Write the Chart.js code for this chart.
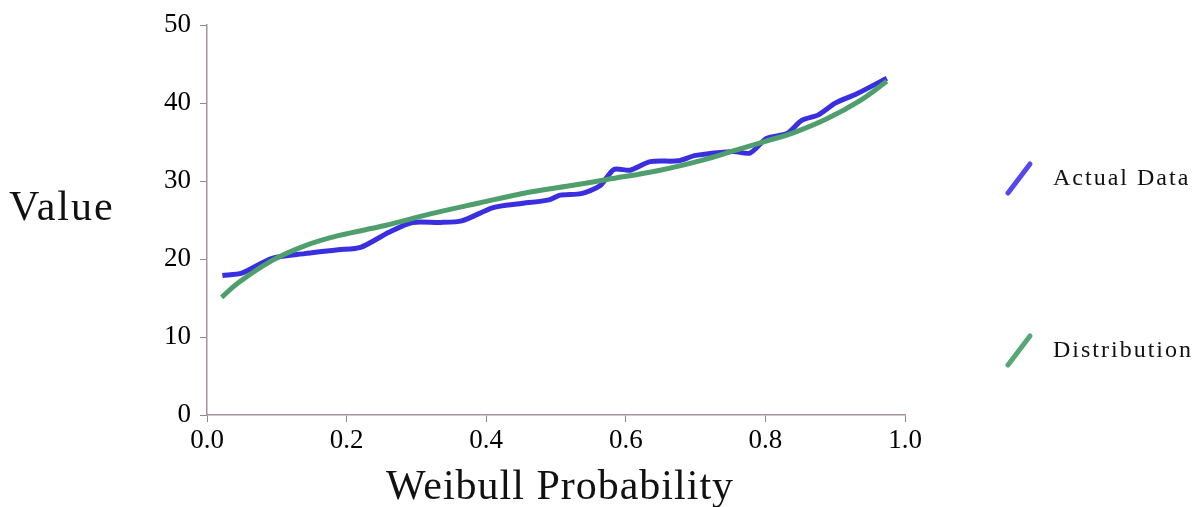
<!DOCTYPE html>
<html>
<head>
<meta charset="utf-8">
<script src="https://cdn.jsdelivr.net/npm/chart.js@4"></script>
<style>
  html, body { margin: 0; padding: 0; background: #fff; }
  #wrap { width: 1196px; height: 507px; position: relative; }
</style>
</head>
<body>
<div id="wrap"><canvas id="weibull"></canvas></div>
<script>
// values
const actualProb = [0.022, 0.05, 0.093, 0.14, 0.188, 0.22, 0.26, 0.294, 0.334, 0.365, 0.41, 0.448, 0.49, 0.506, 0.536, 0.563, 0.583, 0.606, 0.635, 0.675, 0.70, 0.754, 0.778, 0.802, 0.831, 0.852, 0.876, 0.90, 0.931, 0.974]
const actualValue = [17.9, 18.2, 20.1, 20.7, 21.2, 21.5, 23.4, 24.7, 24.7, 24.9, 26.6, 27.1, 27.6, 28.2, 28.4, 29.4, 31.5, 31.4, 32.5, 32.6, 33.3, 33.8, 33.6, 35.5, 36.1, 37.8, 38.5, 40.0, 41.2, 43.2]
const distProb = [0.021, 0.044, 0.093, 0.14, 0.188, 0.255, 0.32, 0.39, 0.463, 0.52, 0.573, 0.649, 0.71, 0.759, 0.80, 0.84, 0.888, 0.935, 0.974]
const distValue = [15.1, 16.9, 19.8, 21.7, 23.0, 24.3, 25.8, 27.2, 28.6, 29.4, 30.2, 31.4, 32.7, 34.0, 35.1, 36.2, 38.0, 40.3, 42.8]
const seriesNames = ["Actual Data", "Distribution"]
const xTicks = [0, 0.2, 0.4, 0.6, 0.8, 1.0]
const yTicks = [0, 10, 20, 30, 40, 50]

const serif = "'Liberation Serif', 'DejaVu Serif', serif"

function pairs(xs, ys){
    return xs.map((x, i) => ({ x: x, y: ys[i] }))
}

// titles and the slanted-line legend
const decorations = {
    id: 'decorations',
    afterDraw(chart){
        const ctx = chart.ctx
        ctx.save()
        ctx.fillStyle = '#111'
        ctx.textBaseline = 'middle'

        ctx.font = '42px ' + serif
        ctx.letterSpacing = '2px'
        ctx.textAlign = 'left'
        ctx.fillText('Value', 9, 209)

        ctx.textAlign = 'center'
        ctx.letterSpacing = '1px'
        ctx.font = '42px ' + serif
        ctx.fillText('Weibull Probability', 560, 488)

        const rows = [
            { y: 179, color: '#5648ee', label: chart.data.datasets[0].label },
            { y: 351, color: '#55a874', label: chart.data.datasets[1].label }
        ]
        rows.forEach(r => {
            ctx.strokeStyle = r.color
            ctx.lineWidth = 5
            ctx.lineCap = 'round'
            ctx.beginPath()
            ctx.moveTo(1008, r.y + 14)
            ctx.lineTo(1030, r.y - 15)
            ctx.stroke()
            ctx.font = '24px ' + serif
            ctx.letterSpacing = '2px'
            ctx.textAlign = 'left'
            ctx.fillText(r.label, 1053, r.y)
        })
        ctx.restore()
    }
}

function setupChart(){

    return new Chart(document.getElementById("weibull").getContext('2d'), {
    type: 'line',
    data: {
        datasets: [
            {
                label: seriesNames[0],
                data: pairs(actualProb, actualValue),
                borderColor: '#3a2fe0',
                borderWidth: 5,
                pointRadius: 0,
                tension: 0.25,
                order: 2
            },
            {
                label: seriesNames[1],
                data: pairs(distProb, distValue),
                borderColor: '#4f9f6c',
                borderWidth: 5,
                pointRadius: 0,
                tension: 0.4,
                order: 1
            }
        ]
    },
    options: {
        responsive: true,
        maintainAspectRatio: false,
        animation: false,
        layout: { padding: { top: 24, right: 291, left: 0, bottom: 0 } },
        plugins: {
            legend: { display: false },
            tooltip: { enabled: false }
        },
        scales: {
            x: {
                type: 'linear',
                min: 0,
                max: 1,
                afterFit: s => { s.height = 92 },
                afterBuildTicks: s => { s.ticks = xTicks.map(v => ({ value: v })) },
                ticks: {
                    color: '#000',
                    padding: 3,
                    font: { family: serif, size: 27 },
                    callback: v => Number(v).toFixed(1)
                },
                grid: {
                    drawOnChartArea: false,
                    color: '#8a8a8a',
                    tickLength: 7
                },
                border: { color: '#a8909f', width: 1.5 }
            },
            y: {
                min: 0,
                max: 50,
                afterFit: s => { s.width = 207 },
                afterBuildTicks: s => { s.ticks = yTicks.map(v => ({ value: v })) },
                ticks: {
                    color: '#000',
                    padding: 9,
                    font: { family: serif, size: 27 }
                },
                grid: {
                    drawOnChartArea: false,
                    color: '#8a8a8a',
                    tickLength: 7
                },
                border: { color: '#a8909f', width: 1.5 }
            }
        }
    },
    plugins: [decorations]
});

}
setupChart()
</script>
</body>
</html>
